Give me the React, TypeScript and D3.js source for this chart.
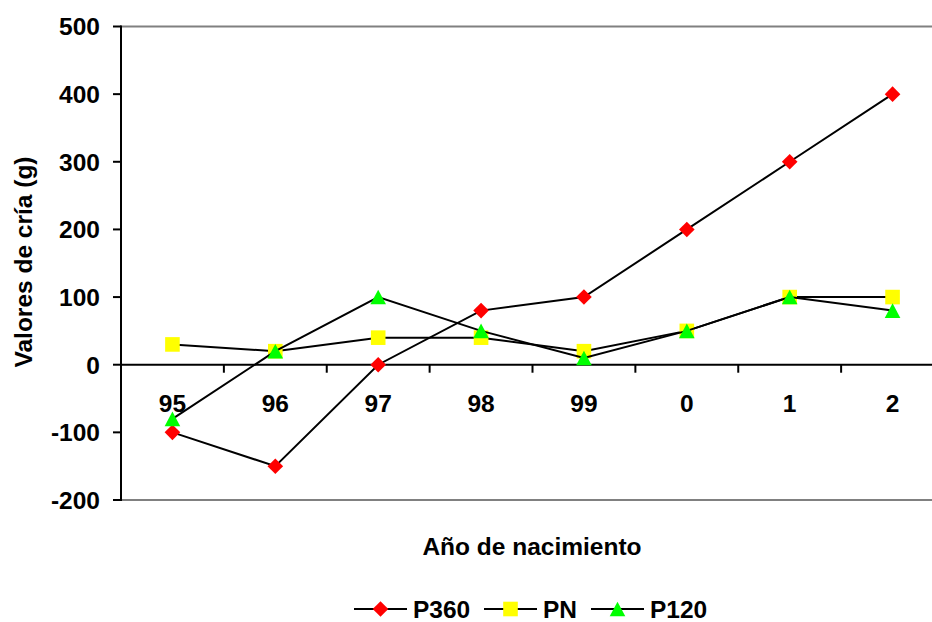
import React from "react";
import * as d3 from "d3";

const categories = ["95", "96", "97", "98", "99", "0", "1", "2"];
const p360 = [-100, -150, 0, 80, 100, 200, 300, 400];
const pn = [30, 20, 40, 40, 20, 50, 100, 100];
const p120 = [-80, 20, 100, 50, 10, 50, 100, 80];
const yTicks = [-200, -100, 0, 100, 200, 300, 400, 500];

const seriesNames = ["P360", "PN", "P120"];
const seriesColors = ["#FF0000", "#FFFF00", "#00FF00"];
const seriesShapes = ["diamond", "square", "triangle"];

const W = 932;
const H = 622;
const FONT = "'Liberation Sans', Arial, Helvetica, sans-serif";
const FS = 24.5;

function Marker({ shape, x, y, color }: { shape: string; x: number; y: number; color: string }) {
  if (shape === "diamond") {
    const r = 7.8;
    return <path d={`M${x},${y - r}L${x + r},${y}L${x},${y + r}L${x - r},${y}Z`} fill={color} />;
  }
  if (shape === "square") {
    const s = 7.3;
    return <rect x={x - s} y={y - s} width={2 * s} height={2 * s} fill={color} />;
  }
  const h = 7.3;
  return <path d={`M${x},${y - h}L${x + 7.8},${y + h}L${x - 7.8},${y + h}Z`} fill={color} />;
}

export default function App() {
  const x = d3.scaleBand<string>().domain(categories).range([121, 944]).padding(0);
  const y = d3.scaleLinear().domain([-200, 500]).range([500, 26.5]);
  const cx = (c: string) => (x(c) as number) + x.bandwidth() / 2;
  const line = d3
    .line<number>()
    .x((_, i) => cx(categories[i]))
    .y((v) => y(v));
  const data = [p360, pn, p120];
  const boundaries = categories.map((c) => x(c) as number).concat([x.range()[1]]);

  const legendItems = [
    { lx: 354, tx: 413 },
    { lx: 484, tx: 543 },
    { lx: 591, tx: 650 },
  ];
  const legendY = 609;

  return (
    <svg width={W} height={H} style={{ position: "absolute", left: 0, top: 0 }} fontFamily={FONT}>
      <rect x={0} y={0} width={W} height={H} fill="#fff" />
      {/* plot border top and bottom */}
      <line x1={121} x2={W} y1={y(500)} y2={y(500)} stroke="#808080" strokeWidth={2} />
      <line x1={121} x2={W} y1={y(-200)} y2={y(-200)} stroke="#808080" strokeWidth={2} />
      {/* y axis */}
      <line x1={121} x2={121} y1={y(500) - 1} y2={y(-200) + 1} stroke="#000" strokeWidth={2} />
      {yTicks.map((t) => (
        <g key={t}>
          <line x1={113} x2={121} y1={y(t)} y2={y(t)} stroke="#000" strokeWidth={2} />
          <text x={100} y={y(t)} dy="0.36em" textAnchor="end" fontSize={FS} fontWeight="bold">
            {t}
          </text>
        </g>
      ))}
      {/* x axis at zero */}
      <line x1={121} x2={W} y1={y(0)} y2={y(0)} stroke="#000" strokeWidth={2} />
      {boundaries.map((b, i) => (
        <line key={i} x1={b} x2={b} y1={y(0)} y2={y(0) + 8} stroke="#000" strokeWidth={2} />
      ))}
      {categories.map((c) => (
        <text key={c} x={cx(c)} y={412} textAnchor="middle" fontSize={FS} fontWeight="bold">
          {c}
        </text>
      ))}
      {/* series */}
      {data.map((vals, si) => (
        <g key={si}>
          <path d={line(vals) || ""} fill="none" stroke="#000" strokeWidth={2} />
          {vals.map((v, i) => (
            <Marker key={i} shape={seriesShapes[si]} x={cx(categories[i])} y={y(v)} color={seriesColors[si]} />
          ))}
        </g>
      ))}
      {/* axis titles */}
      <text x={532} y={555} textAnchor="middle" fontSize={FS} fontWeight="bold">
        Año de nacimiento
      </text>
      <text
        transform={`translate(32,${262}) rotate(-90)`}
        textAnchor="middle"
        fontSize={FS}
        fontWeight="bold"
      >
        Valores de cría (g)
      </text>
      {/* legend */}
      {seriesNames.map((n, i) => (
        <g key={n}>
          <line x1={legendItems[i].lx} x2={legendItems[i].lx + 53} y1={legendY} y2={legendY} stroke="#000" strokeWidth={2} />
          <Marker shape={seriesShapes[i]} x={legendItems[i].lx + 26.5} y={legendY} color={seriesColors[i]} />
          <text x={legendItems[i].tx} y={legendY} dy="0.36em" fontSize={FS} fontWeight="bold">
            {n}
          </text>
        </g>
      ))}
    </svg>
  );
}
